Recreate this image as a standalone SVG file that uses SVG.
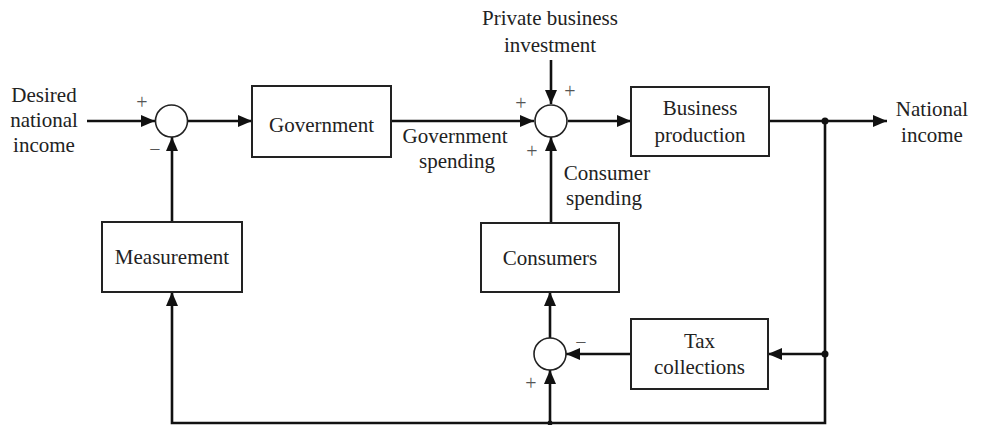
<svg xmlns="http://www.w3.org/2000/svg" width="983" height="425" viewBox="0 0 983 425">
<style>
.box{fill:#fff;stroke:#222;stroke-width:2}
.sum{fill:#fff;stroke:#222;stroke-width:1.6}
.ln{fill:none;stroke:#111;stroke-width:2.6}
.t{font-family:"Liberation Serif","Times New Roman",serif;font-size:21px;fill:#222;text-anchor:middle}
.s{font-family:"Liberation Serif","Times New Roman",serif;font-size:20px;fill:#555;text-anchor:middle}
</style>
<defs>
<marker id="ah" markerUnits="userSpaceOnUse" markerWidth="16" markerHeight="12" refX="14" refY="6" orient="auto">
<path d="M0,0 L14,6 L0,12 z" fill="#111"/>
</marker>
</defs>
<rect width="983" height="425" fill="#fff"/>
<g id="connectors">
<path class="ln" d="M87,121 H155" marker-end="url(#ah)"/>
<path class="ln" d="M188,121 H252" marker-end="url(#ah)"/>
<path class="ln" d="M391,121 H534" marker-end="url(#ah)"/>
<path class="ln" d="M551,60 V104" marker-end="url(#ah)"/>
<path class="ln" d="M568,121 H631" marker-end="url(#ah)"/>
<path class="ln" d="M769,121 H887" marker-end="url(#ah)"/>
<path class="ln" d="M825,121 V423 H172 V292" marker-end="url(#ah)"/>
<path class="ln" d="M172,222 V137" marker-end="url(#ah)"/>
<path class="ln" d="M825,354 H768" marker-end="url(#ah)"/>
<path class="ln" d="M631,354 H566" marker-end="url(#ah)"/>
<path class="ln" d="M550,423 V370" marker-end="url(#ah)"/>
<path class="ln" d="M550,338 V292" marker-end="url(#ah)"/>
<path class="ln" d="M551,223 V137" marker-end="url(#ah)"/>
<circle cx="825" cy="121" r="3.5" fill="#111"/>
<circle cx="825" cy="354" r="3.5" fill="#111"/>
<circle cx="550" cy="423" r="2.5" fill="#111"/>
</g>
<g id="input-label">
<text class="t" x="44" y="102">Desired</text>
<text class="t" x="44" y="127">national</text>
<text class="t" x="44" y="152">income</text>
</g>
<g id="sum1">
<circle class="sum" cx="171.5" cy="121" r="16"/>
<text class="s" x="142" y="109">+</text>
<text class="s" x="155" y="156">−</text>
</g>
<g id="government">
<rect class="box" x="252" y="86" width="139" height="71"/>
<text class="t" x="321.5" y="132">Government</text>
</g>
<g id="gov-spending-label">
<text class="t" x="455" y="143">Government</text>
<text class="t" x="457" y="168">spending</text>
</g>
<g id="investment-label">
<text class="t" x="550" y="25">Private business</text>
<text class="t" x="550" y="52">investment</text>
</g>
<g id="sum2">
<circle class="sum" cx="551" cy="121" r="16"/>
<text class="s" x="570" y="98">+</text>
<text class="s" x="521" y="110">+</text>
<text class="s" x="532" y="158">+</text>
</g>
<g id="business-production">
<rect class="box" x="631" y="87" width="138" height="69"/>
<text class="t" x="700" y="115">Business</text>
<text class="t" x="700" y="142">production</text>
</g>
<g id="output-label">
<text class="t" x="932" y="116">National</text>
<text class="t" x="932" y="142">income</text>
</g>
<g id="consumer-spending-label">
<text class="t" x="607" y="180">Consumer</text>
<text class="t" x="604" y="205">spending</text>
</g>
<g id="measurement">
<rect class="box" x="102" y="222" width="140" height="70"/>
<text class="t" x="172" y="264">Measurement</text>
</g>
<g id="consumers">
<rect class="box" x="481" y="223" width="138" height="69"/>
<text class="t" x="550" y="265">Consumers</text>
</g>
<g id="sum3">
<circle class="sum" cx="550" cy="354" r="16"/>
<text class="s" x="581" y="349">−</text>
<text class="s" x="531" y="390">+</text>
</g>
<g id="tax-collections">
<rect class="box" x="631" y="319" width="137" height="70"/>
<text class="t" x="699.5" y="348">Tax</text>
<text class="t" x="699.5" y="374">collections</text>
</g>
</svg>
